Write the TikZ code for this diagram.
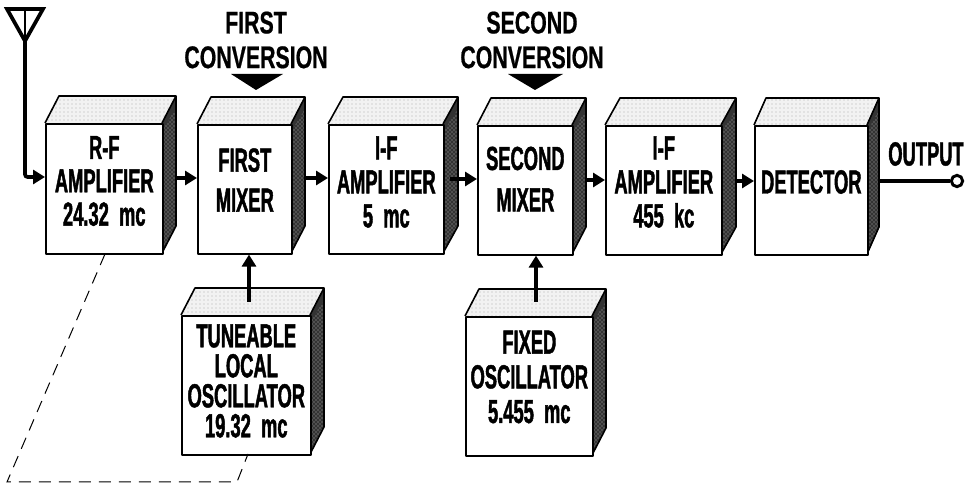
\documentclass[tikz,border=0pt]{standalone}
\usepackage{fontspec}
\setmainfont{Liberation Sans}
\usetikzlibrary{arrows.meta,patterns}
\newfontfamily\heavyfont[FakeStretch=0.55,FakeBold=1.3]{Liberation Sans Bold}
\newfontfamily\capfont[FakeStretch=0.68,FakeBold=0.6]{Liberation Sans Bold}
\definecolor{topc}{gray}{0.95}
\definecolor{sidec}{gray}{0.2}
\tikzset{
  edge/.style={line width=1.2pt,draw=black,line join=round},
  wire/.style={line width=2.8pt,draw=black},
  flow/.style={wire,-{Triangle[length=9pt,width=10.5pt]}},
  gang/.style={line width=0.75pt,draw=black,dash pattern=on 9pt off 6pt},
  captxt/.style={inner sep=0pt,align=center,text=black,font=\fontsize{23.5}{26}\selectfont\capfont},
  boxtxt/.style={inner sep=0pt,align=center,text=black},
  pxpic/.style={x=0.75pt,y=-0.75pt}
}
% #1 name, #2 left, #3 top, #4 right, #5 bottom, #6 depth x, #7 text, #8 text centre y, #9 line pitch (pt)
\newcommand{\blockbox}[9]{%
  \fill[topc] (#2,#3) -- (#2+#6,#3-27) -- (#4+#6,#3-27) -- (#4,#3) -- cycle;
  \fill[pattern=dots,pattern color=black!32] (#2,#3) -- (#2+#6,#3-27) -- (#4+#6,#3-27) -- (#4,#3) -- cycle;
  \fill[sidec] (#4,#3) -- (#4+#6,#3-27) -- (#4+#6,#5-27) -- (#4,#5) -- cycle;
  \fill[pattern=crosshatch dots,pattern color=white!70!black] (#4,#3+8) -- (#4+#6,#3-15) -- (#4+#6,#5-27) -- (#4,#5) -- cycle;
  \draw[edge] (#2,#3) -- (#2+#6,#3-27) -- (#4+#6,#3-27) -- (#4+#6,#5-27) -- (#4,#5);
  \draw[edge] (#4,#3) -- (#4+#6,#3-27);
  \node[edge,draw,fill=white,minimum width=#4*0.75pt-#2*0.75pt,minimum height=#5*0.75pt-#3*0.75pt,inner sep=0pt,anchor=north west] (#1) at (#2,#3) {};
  \node[boxtxt,font=\fontsize{25}{#9}\selectfont\heavyfont] (#1t) at (#1.center |- 0,#8) {#7};
}
\begin{document}
\begin{tikzpicture}[pxpic]
\useasboundingbox (0,0) rectangle (972,484);
\blockbox{rf}{45}{123}{162}{253}{14}{R-F\\AMPLIFIER\\24.32\ \ mc}{181}{25}
\blockbox{mixa}{197}{124}{291}{253}{14}{FIRST\\MIXER}{180}{30}
\blockbox{ifa}{328}{124}{443}{253}{15}{I-F\\AMPLIFIER\\5\ \ mc}{182}{25.5}
\blockbox{mixb}{477}{125}{572}{254}{14}{SECOND\\MIXER}{179}{31}
\blockbox{ifb}{605}{125}{721}{254}{15}{I-F\\AMPLIFIER\\455\ \ kc}{182}{25.5}
\blockbox{det}{754}{125}{867}{254}{12}{DETECTOR}{182}{25}
\blockbox{tlo}{181}{315}{310}{454}{14}{TUNEABLE\\LOCAL\\OSCILLATOR\\19.32\ \ mc}{381}{22.5}
\blockbox{fo}{465}{316}{592}{455}{14}{FIXED\\OSCILLATOR\\5.455\ \ mc}{377}{26}

\coordinate (ant) at (25,41);
\coordinate (antL) at (7,9);
\coordinate (antR) at (43,9);
\coordinate (rfin) at (45,177);
\coordinate (rfk) at (25,177);
\draw[wire,line join=miter] (antL) -- (antR) -- (ant) -- cycle;
\draw[line width=1.4pt] (25,9) -- (ant);
\draw[flow,rounded corners=2pt] (ant) -- (rfk) -- (rfin);

\coordinate (a1) at (175,178);
\coordinate (a2) at (305,178);
\coordinate (a3) at (450,179);
\coordinate (a4) at (586,180);
\coordinate (a5) at (735,181);
\coordinate (a6) at (879,181);
\draw[flow] (a1) -- (mixa.west |- a1);
\draw[flow] (a2) -- (ifa.west |- a2);
\draw[flow] (a3) -- (mixb.west |- a3);
\draw[flow] (a4) -- (ifb.west |- a4);
\draw[flow] (a5) -- (det.west |- a5);
\node[circle,draw=black,line width=2.2pt,fill=white,minimum size=8.5pt,inner sep=0pt] (oc) at (957,181) {};
\draw[wire] (a6) -- (oc.west);
\coordinate (t1) at (249,302);
\coordinate (t2) at (536,302);
\draw[flow] (t1) -- (mixa.south -| t1);
\draw[flow] (t2) -- (mixb.south -| t2);

\coordinate (g1) at (105,254);
\coordinate (g2) at (7,482);
\coordinate (g3) at (237,482);
\coordinate (g4) at (248,454);
\draw[gang] (g1) -- (g2) -- (g3) -- (g4);

\node[captxt] (fc) at (256,40) {FIRST\\CONVERSION};
\node[captxt] (sc) at (532,40) {SECOND\\CONVERSION};
\fill (231,74) -- (283,74) -- (256,90) -- cycle;
\fill (508,74) -- (563,74) -- (535,90) -- cycle;
\node[boxtxt,font=\fontsize{25}{26}\selectfont\heavyfont] (ol) at (926,154) {OUTPUT};
\end{tikzpicture}
\end{document}
